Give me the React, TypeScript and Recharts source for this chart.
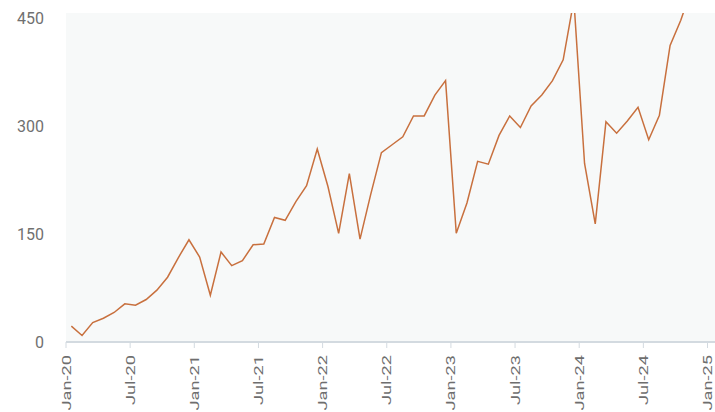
import React from "react";
import { LineChart, Line, XAxis, YAxis, CartesianGrid } from "recharts";

// Month labels (Jan-20 .. Nov-24), one value per month (mid-month points)
const months: string[] = [
  "Jan-20","Feb-20","Mar-20","Apr-20","May-20","Jun-20","Jul-20","Aug-20","Sep-20","Oct-20","Nov-20","Dec-20",
  "Jan-21","Feb-21","Mar-21","Apr-21","May-21","Jun-21","Jul-21","Aug-21","Sep-21","Oct-21","Nov-21","Dec-21",
  "Jan-22","Feb-22","Mar-22","Apr-22","May-22","Jun-22","Jul-22","Aug-22","Sep-22","Oct-22","Nov-22","Dec-22",
  "Jan-23","Feb-23","Mar-23","Apr-23","May-23","Jun-23","Jul-23","Aug-23","Sep-23","Oct-23","Nov-23","Dec-23",
  "Jan-24","Feb-24","Mar-24","Apr-24","May-24","Jun-24","Jul-24","Aug-24","Sep-24","Oct-24","Nov-24",
];

const values: number[] = [
  22, 9, 27, 33, 41, 53, 51, 59, 72, 90, 117, 142,
  118, 65, 125, 106, 113, 135, 136, 173, 169, 195, 217, 268,
  216, 151, 234, 143, 205, 263, 274, 285, 314, 314, 343, 363,
  151, 193, 251, 247, 287, 314, 298, 328, 343, 363, 392, 475,
  248, 164, 306, 290, 307, 326, 281, 315, 412, 447, 490,
];

const xTickLabels: string[] = [
  "Jan-20","Jul-20","Jan-21","Jul-21","Jan-22","Jul-22","Jan-23","Jul-23","Jan-24","Jul-24","Jan-25",
];
const xTickValues: number[] = xTickLabels.map((_, i) => i * 6);
const yTicks: number[] = [0, 150, 300, 450];

const data = months.map((m, i) => ({ month: m, t: i + 0.5, value: values[i] }));

const XTick = (props: any) => {
  const { x, y, payload } = props;
  const idx = xTickValues.indexOf(payload.value);
  const label = idx >= 0 ? xTickLabels[idx] : "";
  return (
    <text
      transform={`translate(${x + 4.5},${y + 5}) rotate(-90) scale(1.4,1)`}
      textAnchor="end"
      fontSize={13}
      fontFamily="Roboto, 'Liberation Sans', sans-serif"
      fill="#6e6e6e"
    >
      {label}
    </text>
  );
};

export default function App() {
  return (
    <div style={{ position: "absolute", left: 0, top: 0, width: 715, height: 412, background: "#ffffff" }}>
      <LineChart
        width={715}
        height={412}
        data={data}
        margin={{ top: 13, right: 0, bottom: 0, left: 0 }}
      >
        <CartesianGrid fill="#f7f9f9" stroke="none" horizontal={false} vertical={false} />
        <XAxis
          dataKey="t"
          type="number"
          domain={[0, 60.7]}
          ticks={xTickValues}
          interval={0}
          height={70}
          axisLine={{ stroke: "#d3dae0", strokeWidth: 2 }}
          tickLine={{ stroke: "#d3dae0", strokeWidth: 1 }}
          tickSize={6}
          tickMargin={2}
          tick={<XTick />}
          allowDataOverflow
        />
        <YAxis
          type="number"
          domain={[0, 457]}
          ticks={yTicks}
          allowDataOverflow
          width={66}
          axisLine={false}
          tickLine={false}
          tickSize={0}
          tickMargin={22}
          tick={{ fill: "#707070", fontSize: 16, fontFamily: "Roboto, 'Liberation Sans', sans-serif" }}
        />
        <Line
          type="linear"
          dataKey="value"
          stroke="#c8703e"
          strokeWidth={1.5}
          dot={false}
          activeDot={false}
          isAnimationActive={false}
        />
      </LineChart>
    </div>
  );
}
